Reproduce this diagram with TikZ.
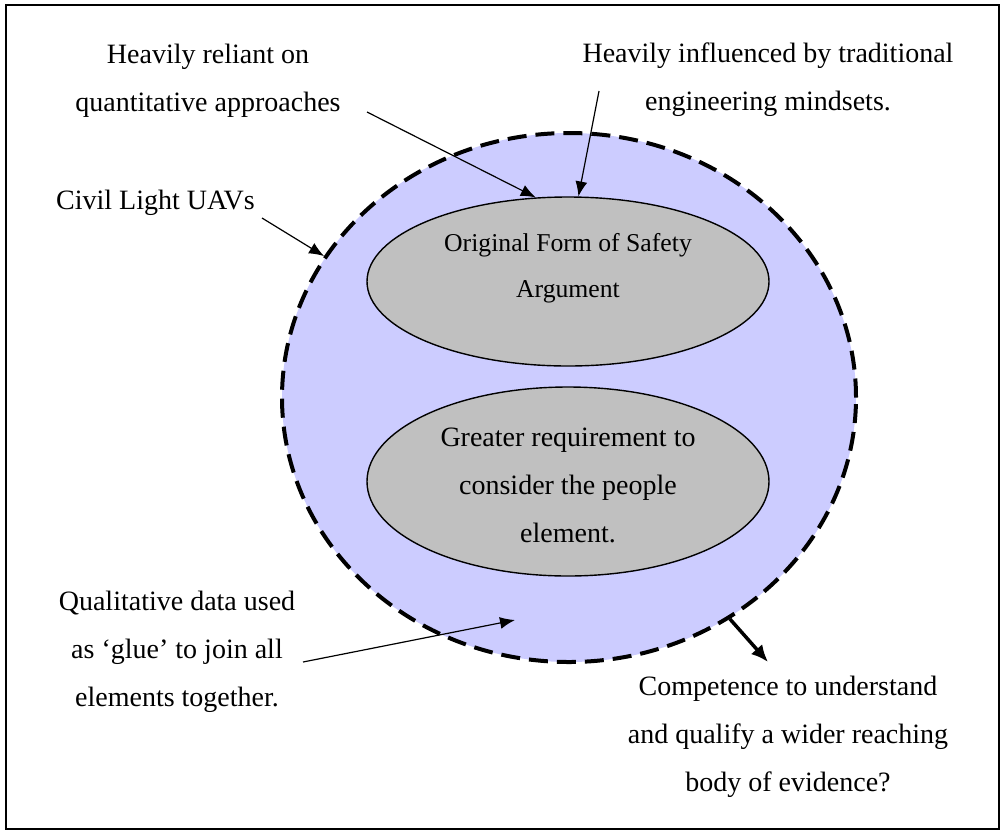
\documentclass[tikz,border=0pt]{standalone}
\usepackage{fontspec}
\setmainfont{Liberation Serif}
\usetikzlibrary{shapes.geometric}
\usetikzlibrary{arrows.meta}
\definecolor{uavblue}{RGB}{204,204,255}
\definecolor{blobgrey}{RGB}{192,192,192}

\begin{document}
\begin{tikzpicture}[
    x=1pt,y=-1pt,
    txt/.style={font=\fontsize{28}{48}\selectfont,align=center,inner sep=0pt},
    blob/.style={draw,ellipse,line width=1.4pt,fill=blobgrey,minimum width=402pt,inner sep=0pt},
    arr/.style={-{Latex[length=15pt,width=12pt]},line width=1.2pt}
    ]
    \useasboundingbox (0,0) rectangle (1003,831);
    \draw[line width=2.2pt] (6,5) rectangle (999,829);

    \node[draw,ellipse,fill=uavblue,line width=4pt,dash pattern=on 19pt off 9pt,
          minimum width=574pt,minimum height=529pt,inner sep=0pt] (uav) at (569,397.5) {};
    \node[blob,minimum height=169pt] (orig) at (568,281.5) {};
    \node[blob,minimum height=189pt] (people) at (568,481.5) {};

    \node[txt,font=\fontsize{25.7}{46}\selectfont,anchor=north] (origtxt) at (568,233) {Original Form of Safety\\Argument};
    \node[txt,anchor=north] (peopletxt) at (568,428) {Greater requirement to\\consider the people\\element.};

    \node[txt,anchor=north] (reliant) at (208,44) {Heavily reliant on\\quantitative approaches};
    \node[txt,anchor=north] (influenced) at (768,43) {Heavily influenced by traditional\\engineering mindsets.};
    \node[txt,anchor=base] (civil) at (155.5,209) {Civil Light UAVs};
    \node[txt,anchor=north] (glue) at (177,591) {Qualitative data used\\as `glue' to join all\\elements together.};
    \node[txt,anchor=north] (compet) at (788,676) {Competence to understand\\and qualify a wider reaching\\body of evidence?};

    \coordinate (relstart) at (367,112);
    \coordinate (inflstart) at (599,91);
    \coordinate (civstart) at (262,218);
    \coordinate (gluestart) at (303,662);
    \coordinate (gluetip) at (515,620);
    \coordinate (comptip) at (768,662);

    \path (relstart) edge[arr] (orig.111)
    (inflstart) edge[arr] (orig.83)
    (civstart) edge[arr] (uav.150)
    (gluestart) edge[arr] (gluetip)
    (uav.-54) edge[-{Latex[length=17pt,width=15pt]},line width=3.5pt] (comptip)
    ;

\end{tikzpicture}
\end{document}
